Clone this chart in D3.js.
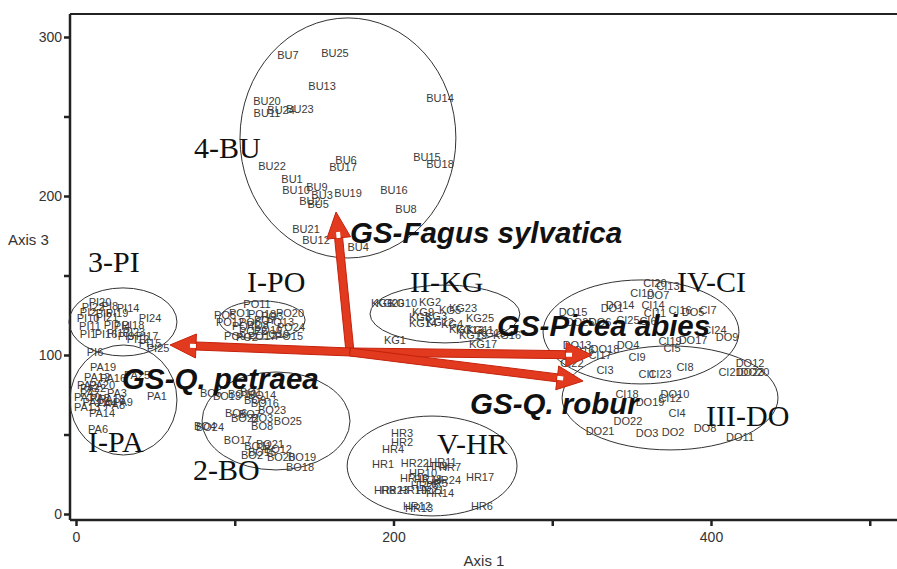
<!DOCTYPE html>
<html><head><meta charset="utf-8">
<script src="https://cdn.jsdelivr.net/npm/d3@7"></script>
<style>
html,body{margin:0;padding:0;background:#fff;}
svg{display:block;}
</style></head>
<body>
<svg id="chart" width="897" height="569"></svg>
<script>
// ---- data (Axis 1, Axis 3 scores) ----
const buPoints = [["BU7",133.5,288.7],["BU25",163.1,290],["BU13",155,269.2],["BU14",229.3,261.7],["BU20",120.3,259.8],["BU11",120.3,252.2],["BU24",129.2,254.1],["BU23",141.1,254.7],["BU6",170.1,222.7],["BU17",168.2,218.3],["BU15",221.1,224.6],["BU18",229.3,220.2],["BU22",123.5,218.9],["BU1",136.1,210.7],["BU10",138.6,203.8],["BU9",151.8,205.7],["BU3",155,200.7],["BU19",171.4,201.9],["BU16",200.3,203.8],["BU2",147.4,196.9],["BU5",152.5,195],["BU8",207.9,191.8],["BU21",144.9,179.3],["BU12",151.2,172.3],["BU4",177.7,167.9]];
const piPoints = [["PI20",15.1,133.3],["PI22",10.7,130.2],["PI8",21.4,130.8],["PI14",32.8,129.6],["PI2",7.6,127],["PI5",17.6,126.4],["PI19",25.8,126.4],["PI10",7.6,123.3],["PI21",19.5,123.9],["PI24",46.6,123.3],["PI11",8.8,118.3],["PI7",22.7,118.9],["PI18",35.9,118.9],["PI4",29,118.3],["PI1",7.6,113.2],["PI16",18.9,113.2],["PI13",26.5,113.9],["PI23",36.5,114.5],["PI9",31.5,112],["PI17",44.7,112],["PI12",39.1,110.1],["PI15",46.6,107.6],["PI25",51.7,104.4],["PI6",12,101.9]];
const paPoints = [["PA19",17,92.5],["PA12",13.2,86.2],["PA16",23.3,85.5],["PA25",38.4,87.4],["PA2",6.9,81.1],["PA20",16.4,81.1],["PA22",10.7,79.3],["PA7",8.8,76.1],["PA3",25.8,76.1],["PA1",51,74.2],["PA10",6.9,73.6],["PA5",15.1,73],["PA18",22.7,72.3],["PA9",29.6,70.4],["PA4",19.5,69.8],["PA11",12,70.4],["PA13",6.9,67.3],["PA8",24.6,68.6],["PA14",16.4,63.5],["PA6",13.9,53.5]];
const poPoints = [["PO11",114,132.1],["PO1",103.3,126.4],["PO20",134.8,126.4],["PO5",93.9,125.2],["PO18",117.2,125.8],["PO3",123.5,124.5],["PO12",97,120.8],["PO6",109.6,120.8],["PO7",119,122],["PO13",128.5,120.8],["PO24",135.4,117.6],["PO4",105.2,118.3],["PO8",114.6,118.9],["PO10",121,115.7],["PO22",111.5,115.1],["PO9",100.2,112],["PO17",117.2,112],["PO15",134.2,112],["PO2",107.7,111.3],["PO19",125.4,113.2]];
const boPoints = [["BO5",85,76.1],["BO13",95.1,74.2],["BO10",104.6,75.5],["BO1",110.2,76.7],["BO14",117.2,74.8],["BO9",112.8,71.7],["BO16",119,69.8],["BO23",123.5,65.4],["BO6",100.8,63.5],["BO7",109.6,62.9],["BO22",106.5,60.4],["BO3",117.2,60.4],["BO25",133.5,58.5],["BO8",117.2,55.4],["BO24",84.4,54.7],["BO4",81.3,55.4],["BO17",102,46.5],["BO21",122.2,44],["BO11",114.6,42.8],["BO12",127.2,40.9],["BO15",117.2,39],["BO2",110.9,37.1],["BO20",129.1,35.9],["BO19",142.4,35.9],["BO18",141.1,29.6]];
const kgPoints = [["KG6",192.8,132.7],["KG20",197.8,132.7],["KG10",206,132.7],["KG2",223,133.3],["KG9",218.6,127],["KG5",235.6,128.3],["KG23",243.8,129.6],["KG8",216.7,123.9],["KG3",226.8,124.5],["KG25",254.5,123.3],["KG14",218.6,120.1],["KG12",229.3,120.8],["KG4",236.9,119.5],["KG7",241.9,116.4],["KG13",248.2,115.7],["KG11",254.5,115.7],["KG19",250.1,112.6],["KG15",262,113.9],["KG16",271.5,112.6],["KG1",200.9,109.4],["KG17",256.4,106.9]];
const ciPoints = [["CI20",364.7,145.3],["CI13",372.9,143.4],["CI10",356.5,139],["CI14",363.5,131.5],["CI11",364.7,126.4],["CI16",380.5,128.3],["CI7",398.1,128.3],["CI25",347.7,122],["CI6",360.3,121.4],["CI24",402.5,115.7],["CI19",374.2,108.8],["CI5",375.4,104.4],["CI17",330.1,100],["CI9",353.4,98.8],["CI22",312.4,95],["CI3",333.2,90.6],["CI8",383.6,92.5],["CI1",359.7,88.1],["CI23",367.9,88.1],["CI21",412,89.3],["CI18",347.1,75.5],["CI12",374.2,73],["CI4",378.6,63.5]];
const doPoints = [["DO7",366.6,137.7],["DO15",313.1,127],["DO14",342.7,131.5],["DO1",337.6,129.6],["DO5",388.7,127],["DO25",317.5,120.8],["DO6",330.1,120.8],["DO13",315.6,106.3],["DO16",317.5,103.2],["DO18",333.2,103.8],["DO4",347.7,106.3],["DO17",388.7,109.4],["DO9",410.1,111.3],["DO12",424.6,95],["DO23",424.6,89.3],["DO20",427.7,89.3],["DO10",377.3,75.5],["DO19",361.6,70.4],["DO22",347.7,58.5],["DO21",330.1,52.2],["DO3",359.7,50.9],["DO2",376.1,51.6],["DO8",396.2,54.1],["DO11",418.3,48.4]];
const hrPoints = [["HR3",205.4,50.9],["HR2",205.4,45.3],["HR4",199.7,40.9],["HR1",193.4,31.4],["HR22",213.5,32.1],["HR11",231.2,32.7],["HR9",227.4,30.2],["HR7",235.6,29.6],["HR17",254.5,23.3],["HR10",218.6,25.8],["HR16",212.9,22.6],["HR18",221.7,22],["HR24",233.7,21.4],["HR5",227.4,19.5],["HR25",219.8,18.2],["HR8",194.6,15.1],["HR23",200.9,15.1],["HR19",212.3,15.1],["HR21",223,15.1],["HR14",229.3,13.2],["HR12",214.8,5],["HR13",216.1,3.8],["HR6",255.7,5]];

// group envelopes: [name, cx, cy, rx, ry]
const groupEllipses = [["BU",171.3,236.5,68,75.5],["PI",29.6,120.8,34,21.4],["PA",29.9,71.7,33.7,34.6],["PO",117.2,122,27.1,12],["BO",126,58.5,46.6,30.8],["KG",232.4,125.8,47.2,18.2],["CI",355.9,114.5,61.7,32.7],["DO",374.2,73,68,32.7],["HR",224.3,30.2,53.5,31.4]];
// group names: [text, x, y]
const groupNames = [["4-BU",74.3,223.9],["3-PI",7.6,152.2],["I-PO",107.7,139.6],["II-KG",210.4,139.6],["IV-CI",378.6,139.6],["I-PA",7.6,39],["2-BO",73.7,21.4],["V-HR",227.4,37.7],["III-DO",396.9,55.3]];
// environmental vectors
const vectorOrigin = [172.6,101.9];
const vectorNames = ["GS-Fagus sylvatica","GS-Picea abies","GS-Q. petraea","GS-Q. robur"];
const vectorTipX = [163.8,325,59.2,319.4];
const vectorTipY = [189.9,100,106.3,83.6];
const vectorLabelX = [172.6,265.2,29,248.2];
const vectorLabelY = [170.4,111.9,78.6,62.9];
const xTicks = [0,100,200,300,400,500];
const xTickLabels = [0,200,400];
const yTicks = [0,50,100,150,200,250,300];
const yTickLabels = [0,100,200,300];

// ---- drawing ----
const svg = d3.select("#chart");
const x = d3.scaleLinear().domain([0,500]).range([76,869.75]);
const y = d3.scaleLinear().domain([0,300]).range([514,37]);
const axisX0 = 70, axisY0 = 520, topY = 14, rightX = 897;

// frame
svg.append("line").attr("x1",axisX0).attr("x2",rightX).attr("y1",topY).attr("y2",topY).attr("stroke","#222").attr("stroke-width",2);
// left axis
const gy = svg.append("g").attr("transform",`translate(${axisX0},0)`)
  .call(d3.axisLeft(y).tickValues(yTicks).tickSize(6).tickFormat(d => yTickLabels.includes(d) ? d : ""));
gy.select(".domain").attr("d",`M0,${topY}V${axisY0}`).attr("stroke","#222").attr("stroke-width",2.5);
gy.selectAll(".tick line").attr("stroke","#222").attr("stroke-width",2.5);
gy.selectAll(".tick text").attr("font-family","Liberation Sans, Arial, sans-serif").attr("font-size",14).attr("fill","#333").attr("x",-8);
// bottom axis
const gx = svg.append("g").attr("transform",`translate(0,${axisY0})`)
  .call(d3.axisBottom(x).tickValues(xTicks).tickSize(6).tickFormat(d => xTickLabels.includes(d) ? d : ""));
gx.select(".domain").attr("d",`M${axisX0},0H${rightX}`).attr("stroke","#222").attr("stroke-width",2.5);
gx.selectAll(".tick line").attr("stroke","#222").attr("stroke-width",2.5);
gx.selectAll(".tick text").attr("font-family","Liberation Sans, Arial, sans-serif").attr("font-size",14).attr("fill","#333").attr("y",12);
// axis titles
svg.append("text").attr("x",484).attr("y",566).attr("text-anchor","middle").attr("font-family","Liberation Sans, Arial, sans-serif").attr("font-size",15).attr("fill","#333").text("Axis 1");
svg.append("text").attr("x",8).attr("y",245).attr("font-family","Liberation Sans, Arial, sans-serif").attr("font-size",15).attr("fill","#333").text("Axis 3");

// ellipses
svg.append("g").selectAll("ellipse").data(groupEllipses).join("ellipse")
  .attr("cx",d=>x(d[1])).attr("cy",d=>y(d[2]))
  .attr("rx",d=>x(d[1]+d[3])-x(d[1])).attr("ry",d=>y(d[2]-d[4])-y(d[2]))
  .attr("fill","none").attr("stroke","#333").attr("stroke-width",1);

// point labels
const allPoints = [].concat(buPoints,piPoints,paPoints,poPoints,boPoints,kgPoints,ciPoints,doPoints,hrPoints);
svg.append("g").selectAll("text").data(allPoints).join("text")
  .attr("x",d=>x(d[1])).attr("y",d=>y(d[2])).attr("dy","0.35em")
  .attr("text-anchor","middle").attr("font-family","Liberation Sans, Arial, sans-serif")
  .attr("font-size",11).attr("fill","#3a3a3a").text(d=>d[0]);

// group names
svg.append("g").selectAll("text").data(groupNames).join("text")
  .attr("x",d=>x(d[1])).attr("y",d=>y(d[2]))
  .attr("font-family","Liberation Serif, Times New Roman, serif").attr("font-size",30).attr("fill","#111").text(d=>d[0]);

// vectors
const ox = x(vectorOrigin[0]), oy = y(vectorOrigin[1]);
const vg = svg.append("g");
vectorNames.forEach((name,i)=>{
  const tx = x(vectorTipX[i]), ty = y(vectorTipY[i]);
  const dx = tx-ox, dy = ty-oy, len = Math.hypot(dx,dy);
  const ux = dx/len, uy = dy/len, nx = -uy, ny = ux;
  const L = 26, W = 12, S = 4;
  const bx = tx-ux*L, by = ty-uy*L;
  const shaft = [[ox+nx*S,oy+ny*S],[bx+nx*S,by+ny*S],[bx-nx*S,by-ny*S],[ox-nx*S,oy-ny*S]];
  vg.append("polygon").attr("points",shaft.map(p=>p.join(",")).join(" ")).attr("fill","#e23a1e").attr("stroke","#c4220c").attr("stroke-width",1);
  const head = [[tx,ty],[bx+nx*W,by+ny*W],[bx-nx*W,by-ny*W]];
  vg.append("polygon").attr("points",head.map(p=>p.join(",")).join(" ")).attr("fill","#e23a1e").attr("stroke","#c4220c").attr("stroke-width",1);
  const nb = [[bx+nx*2,by+ny*2],[bx+ux*6+nx*2,by+uy*6+ny*2],[bx+ux*6-nx*2,by+uy*6-ny*2],[bx-nx*2,by-ny*2]];
  vg.append("polygon").attr("points",nb.map(p=>p.join(",")).join(" ")).attr("fill","#fff");
});
vg.selectAll("text.vl").data(vectorNames).join("text").attr("class","vl")
  .attr("x",(d,i)=>x(vectorLabelX[i])).attr("y",(d,i)=>y(vectorLabelY[i]))
  .attr("font-family","Liberation Sans, Arial, sans-serif").attr("font-weight","bold").attr("font-style","italic")
  .attr("font-size",29.5).attr("fill","#111").text(d=>d);
</script>
</body></html>
